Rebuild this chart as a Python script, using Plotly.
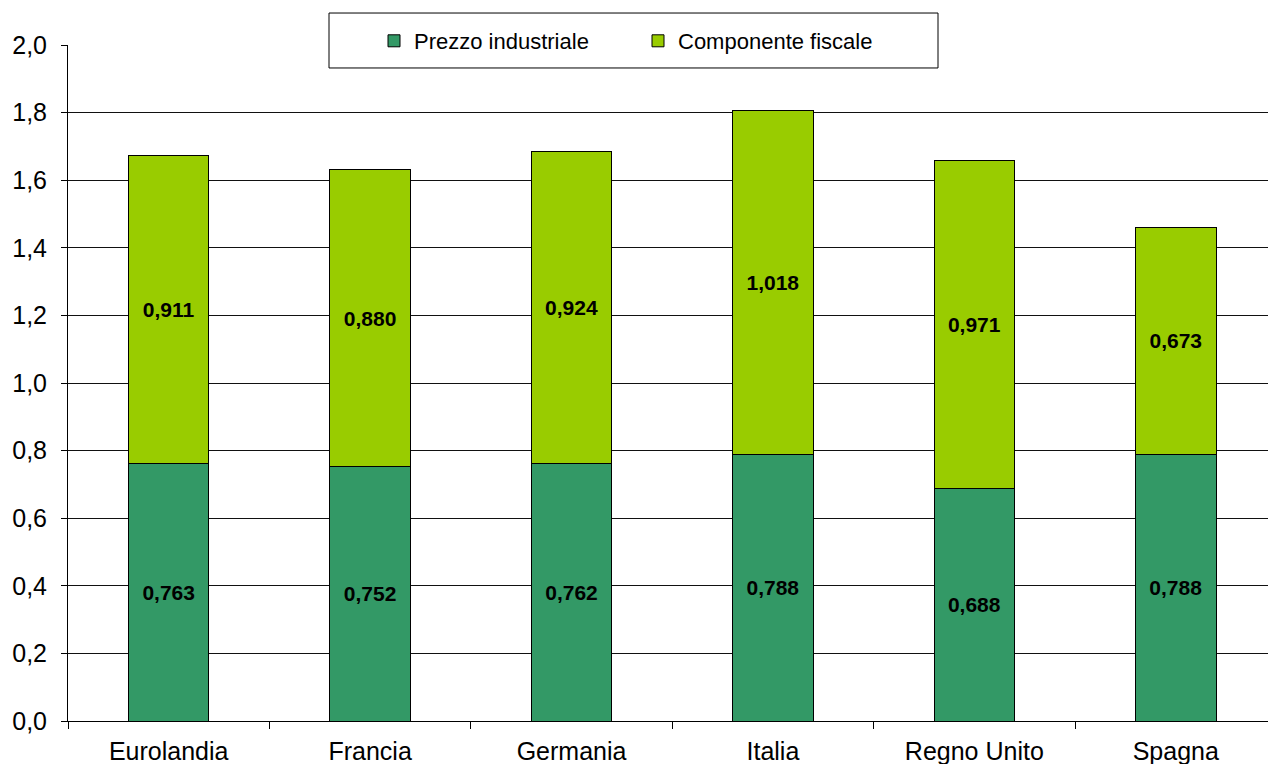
import plotly.graph_objects as go

paesi = ["Eurolandia", "Francia", "Germania", "Italia", "Regno Unito", "Spagna"]
prezzo_industriale = [0.763, 0.752, 0.762, 0.788, 0.688, 0.788]
componente_fiscale = [0.911, 0.880, 0.924, 1.018, 0.971, 0.673]

FONT = "Liberation Sans, Arial, sans-serif"

fig = go.Figure()
for nome, valori, colore in [
    ("Prezzo industriale", prezzo_industriale, "#339966"),
    ("Componente fiscale", componente_fiscale, "#99CC00"),
]:
    fig.add_trace(go.Bar(
        name=nome, x=paesi, y=valori,
        marker=dict(color=colore, line=dict(color="#000000", width=1)),
        texttemplate="<b>%{y:.3f}</b>", textposition="inside",
        insidetextanchor="middle", textangle=0, constraintext="none",
        textfont=dict(family=FONT, size=21, color="#000000"),
    ))

# legend frame, drawn over the top gridline
fig.add_shape(
    type="rect", xref="paper", yref="paper",
    x0=0.2175, x1=0.725, y0=0.966, y1=1.0473,
    fillcolor="white", line=dict(color="#000000", width=1), layer="above",
)

fig.update_layout(
    barmode="stack",
    bargap=0.6,
    width=1268, height=764,
    margin=dict(l=68, r=0, t=45, b=43),
    paper_bgcolor="white", plot_bgcolor="white",
    separators=",.",
    font=dict(family=FONT, size=25, color="#000000"),
    showlegend=True,
    legend=dict(
        orientation="h", x=0.255, xanchor="left", y=1.0059, yanchor="middle",
        bgcolor="rgba(0,0,0,0)", borderwidth=0,
        font=dict(family=FONT, size=22, color="#000000"),
        entrywidth=219, itemwidth=30, traceorder="normal",
    ),
    xaxis=dict(
        range=[-0.5, 5.458], showgrid=False, showline=True,
        linecolor="#000000", linewidth=1,
        ticks="outside", tickson="boundaries", ticklen=7,
        tickcolor="#000000", tickfont=dict(size=25), ticklabelstandoff=8,
    ),
    yaxis=dict(
        range=[0, 2.0], dtick=0.2, tickformat=".1f",
        showgrid=True, gridcolor="#111111", gridwidth=1,
        showline=True, linecolor="#000000", linewidth=1,
        zeroline=False, ticks="outside", ticklen=6, tickcolor="#000000",
        tickfont=dict(size=25), ticklabelstandoff=9,
    ),
)

fig.write_html("out.html")
